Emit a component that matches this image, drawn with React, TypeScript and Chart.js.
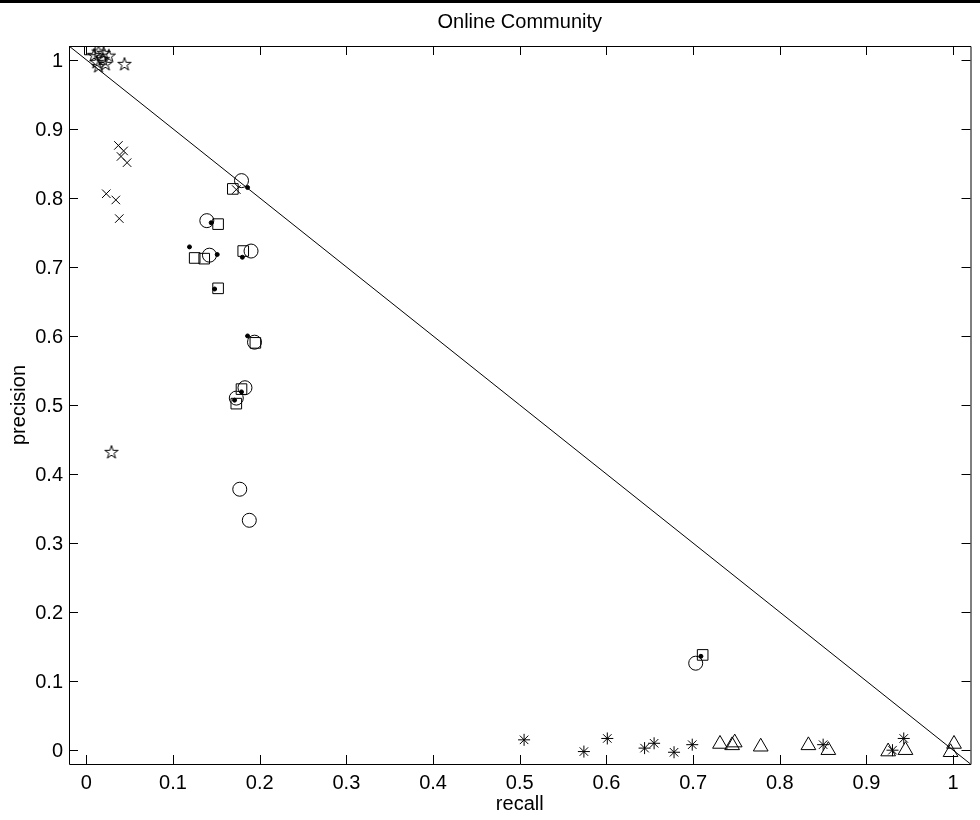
import React, { useEffect, useRef } from "react";
import { Chart, registerables } from "chart.js";

Chart.register(...registerables);

const TITLE = "Online Community";
const X_LABEL = "recall";
const Y_LABEL = "precision";

const X_TICKS = [0, 0.1, 0.2, 0.3, 0.4, 0.5, 0.6, 0.7, 0.8, 0.9, 1];
const X_TICK_LABELS = ["0", "0.1", "0.2", "0.3", "0.4", "0.5", "0.6", "0.7", "0.8", "0.9", "1"];
const Y_TICKS = [0, 0.1, 0.2, 0.3, 0.4, 0.5, 0.6, 0.7, 0.8, 0.9, 1];
const Y_TICK_LABELS = ["0", "0.1", "0.2", "0.3", "0.4", "0.5", "0.6", "0.7", "0.8", "0.9", "1"];

const X_MIN = -0.02;
const X_MAX = 1.02;
const Y_MIN = -0.02;
const Y_MAX = 1.02;

// reference line precision = 1 - recall, across the whole axis
const refLineRecall = [-0.02, 1.02];
const refLinePrecision = [1.02, -0.02];

// pentagram markers
const starRecall = [0.009, 0.014, 0.02, 0.026, 0.012, 0.019, 0.014, 0.022, 0.044, 0.029];
const starPrecision = [1.007, 1.012, 1.01, 1.006, 0.997, 1.001, 0.991, 0.994, 0.994, 0.432];

// x markers
const crossRecall = [0.037, 0.043, 0.04, 0.047, 0.023, 0.034, 0.038, 0.173];
const crossPrecision = [0.876, 0.868, 0.86, 0.851, 0.806, 0.797, 0.77, 0.812];

// circle markers
const circleRecall = [0.179, 0.139, 0.142, 0.19, 0.183, 0.173, 0.177, 0.188, 0.703, 0.194];
const circlePrecision = [0.825, 0.767, 0.717, 0.723, 0.525, 0.51, 0.378, 0.333, 0.126, 0.591];

// square markers
const squareRecall = [0.169, 0.152, 0.125, 0.136, 0.181, 0.152, 0.195, 0.179, 0.173, 0.711, 0.004];
const squarePrecision = [0.813, 0.762, 0.713, 0.712, 0.723, 0.669, 0.59, 0.523, 0.502, 0.138, 1.015];

// dot markers
const dotRecall = [0.186, 0.144, 0.119, 0.151, 0.18, 0.148, 0.186, 0.179, 0.171, 0.709];
const dotPrecision = [0.815, 0.764, 0.729, 0.718, 0.714, 0.668, 0.6, 0.519, 0.507, 0.136];

// asterisk markers
const asteriskRecall = [0.505, 0.574, 0.601, 0.644, 0.655, 0.678, 0.699, 0.85, 0.93, 0.943];
const asteriskPrecision = [0.015, -0.002, 0.017, 0.003, 0.01, -0.003, 0.008, 0.008, 0.0, 0.017];

// triangle markers
const triangleRecall = [0.731, 0.745, 0.748, 0.778, 0.833, 0.856, 0.925, 0.945, 1.001, 0.997];
const trianglePrecision = [0.009, 0.007, 0.011, 0.005, 0.007, 0.0, -0.002, 0.0, 0.009, -0.003];

const FONT = '"Liberation Sans", Arial, Helvetica, sans-serif';

function pts(xs: number[], ys: number[]) {
  return xs.map((x, i) => ({ x, y: ys[i] }));
}

function makePentagram(): HTMLCanvasElement {
  const size = 16;
  const c = document.createElement("canvas");
  c.width = size;
  c.height = size;
  const ctx = c.getContext("2d")!;
  const cx = size / 2;
  const cy = size / 2 + 0.5;
  const R = 7;
  const r = R * 0.382;
  ctx.beginPath();
  for (let i = 0; i < 10; i++) {
    const ang = -Math.PI / 2 + (i * Math.PI) / 5;
    const rad = i % 2 === 0 ? R : r;
    const px = cx + Math.cos(ang) * rad;
    const py = cy + Math.sin(ang) * rad;
    if (i === 0) ctx.moveTo(px, py);
    else ctx.lineTo(px, py);
  }
  ctx.closePath();
  ctx.strokeStyle = "#000";
  ctx.lineWidth = 1;
  ctx.stroke();
  return c;
}

const axesPlugin = {
  id: "matlabAxes",
  afterDraw(chart: any) {
    const { ctx, chartArea } = chart;
    const xs = chart.scales.x;
    const ys = chart.scales.y;
    const { left, right, top, bottom } = chartArea;
    ctx.save();
    // top bar
    ctx.fillStyle = "#000";
    ctx.fillRect(0, 0, chart.width, 3);
    // frame
    ctx.strokeStyle = "#000";
    ctx.lineWidth = 1;
    ctx.beginPath();
    ctx.rect(left + 0.5, top + 0.5, right - left, bottom - top);
    ctx.stroke();
    const TL = 9;
    ctx.beginPath();
    X_TICKS.forEach((v) => {
      const px = Math.round(xs.getPixelForValue(v)) + 0.5;
      ctx.moveTo(px, bottom);
      ctx.lineTo(px, bottom - TL);
      ctx.moveTo(px, top);
      ctx.lineTo(px, top + TL);
    });
    Y_TICKS.forEach((v) => {
      const py = Math.round(ys.getPixelForValue(v)) + 0.5;
      ctx.moveTo(left, py);
      ctx.lineTo(left + TL, py);
      ctx.moveTo(right, py);
      ctx.lineTo(right - TL, py);
    });
    ctx.stroke();
    // tick labels
    ctx.fillStyle = "#000";
    ctx.font = `20px ${FONT}`;
    ctx.textAlign = "center";
    ctx.textBaseline = "alphabetic";
    X_TICKS.forEach((v, i) => {
      ctx.fillText(X_TICK_LABELS[i], xs.getPixelForValue(v), 789);
    });
    ctx.textAlign = "right";
    Y_TICKS.forEach((v, i) => {
      ctx.fillText(Y_TICK_LABELS[i], left - 6, ys.getPixelForValue(v) + 7);
    });
    // title & axis labels
    ctx.textAlign = "center";
    ctx.fillText(TITLE, (left + right) / 2, 28);
    ctx.fillText(X_LABEL, (left + right) / 2, 810);
    ctx.save();
    ctx.translate(25, (top + bottom) / 2);
    ctx.rotate(-Math.PI / 2);
    ctx.fillText(Y_LABEL, 0, 0);
    ctx.restore();
    ctx.restore();
  },
};

export default function App() {
  const ref = useRef<HTMLCanvasElement | null>(null);
  useEffect(() => {
    const canvas = ref.current;
    if (!canvas) return;
    const pentagram = makePentagram();
    const hollow = "rgba(0,0,0,0)";
    const base = { borderColor: "#000", borderWidth: 1, backgroundColor: hollow };
    const chart = new Chart(canvas, {
      type: "scatter",
      data: {
        datasets: [
          {
            ...base,
            data: pts(refLineRecall, refLinePrecision),
            showLine: true,
            pointRadius: 0,
            fill: false,
          } as any,
          { ...base, data: pts(starRecall, starPrecision), pointStyle: pentagram as any, pointRadius: 7 },
          { ...base, data: pts(crossRecall, crossPrecision), pointStyle: "crossRot", pointRadius: 6 },
          { ...base, data: pts(circleRecall, circlePrecision), pointStyle: "circle", pointRadius: 7 },
          { ...base, data: pts(squareRecall, squarePrecision), pointStyle: "rect", pointRadius: 7.5 },
          {
            ...base,
            data: pts(dotRecall, dotPrecision),
            pointStyle: "circle",
            pointRadius: 2,
            backgroundColor: "#000",
          },
          { ...base, data: pts(asteriskRecall, asteriskPrecision), pointStyle: "star", pointRadius: 6 },
          { ...base, data: pts(triangleRecall, trianglePrecision), pointStyle: "triangle", pointRadius: 8.5 },
        ],
      },
      options: {
        animation: false,
        responsive: false,
        devicePixelRatio: 1,
        layout: { padding: { left: 69, top: 46, right: 0, bottom: 56 } },
        plugins: { legend: { display: false }, tooltip: { enabled: false }, title: { display: false } },
        events: [],
        scales: {
          x: { type: "linear", min: X_MIN, max: X_MAX, display: false },
          y: { type: "linear", min: Y_MIN, max: Y_MAX, display: false },
        },
      },
      plugins: [axesPlugin],
    });
    return () => chart.destroy();
  }, []);
  return (
    <div style={{ position: "absolute", left: 0, top: 0, width: 980, height: 820, background: "#fff" }}>
      <canvas ref={ref} width={980} height={820} style={{ display: "block", width: 980, height: 820 }} />
    </div>
  );
}
